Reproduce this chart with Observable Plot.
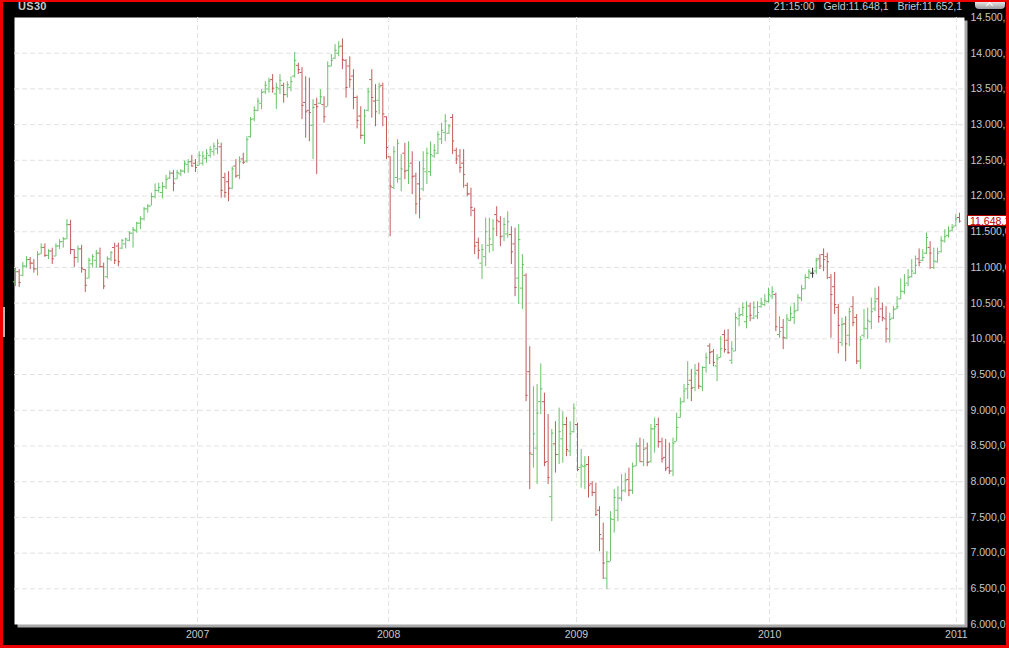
<!DOCTYPE html>
<html>
<head>
<meta charset="utf-8">
<script src="https://cdn.jsdelivr.net/npm/d3@7"></script>
<script src="https://cdn.jsdelivr.net/npm/@observablehq/plot@0.6"></script>
<style>
  html, body { margin: 0; padding: 0; background: #000; }
  #wrap { position: relative; width: 1009px; height: 648px; overflow: hidden; background: #000;
          font-family: "Liberation Sans", Arial, sans-serif; }
  #chart { position: absolute; left: 0; top: 0; }
  #border { position: absolute; left: 0; top: 0; width: 1009px; height: 648px; box-sizing: border-box;
            border: 3px solid #ee0000; border-top-width: 2px; pointer-events: none; }
  .hdr { position: absolute; top: 0; font-size: 10.5px; line-height: 12px; color: #c8c8c8; white-space: pre; }
  #title { left: 18px; font-weight: bold; font-size: 11px; letter-spacing: 0.3px; }
  #quote { right: 47px; }
  #btn { position: absolute; left: 975px; top: 1px; width: 30px; height: 8px; border-radius: 0 0 4px 4px;
         background: linear-gradient(#f0f0f0, #9a9a9a); }
  #btn:after { content: ""; position: absolute; left: 12px; top: 2px; width: 4px; height: 4px;
               border-left: 1px solid #fff; border-top: 1px solid #fff; transform: rotate(45deg); }
  #handle { position: absolute; left: 3px; top: 307px; width: 2px; height: 30px; background: #b8b8b8; }
  #price { position: absolute; left: 967px; width: 44px; height: 11px; box-sizing: border-box; background: #fff;
           border: 1px solid #b00000; color: #c00000; font-size: 10.5px; line-height: 10px; padding-left: 2px;
           white-space: pre; }
</style>
</head>
<body>
<div id="wrap">
  <div id="chart"></div>
  <div id="title" class="hdr">US30</div>
  <div id="quote" class="hdr">21:15:00   Geld:11.648,1   Brief:11.652,1</div>
  <div id="btn"></div>
  <div id="handle"></div>
  <div id="price"></div>
  <div id="border"></div>
</div>
<script>
// ---- weekly OHLC bars of US30, first bar = week ending 2006-02-03 ----
const firstWeek = "2006-02-03";

const opens = [
  10800,10940,10890,11020,11110,11060,10980,11190,11280,11170,
  11230,11160,11300,11360,11400,11600,11250,11140,11260,10970,
  10850,11050,11100,11200,11010,10870,11120,11280,11300,11270,
  11330,11380,11480,11520,11620,11680,11820,11860,11990,12080,
  12050,12130,12250,12320,12240,12310,12350,12440,12480,12460,
  12430,12460,12530,12570,12620,12660,12690,12260,12200,12110,
  12420,12290,12520,12490,12830,13080,13200,13300,13460,13500,
  13630,13430,13500,13550,13420,13520,13680,13830,13730,13310,
  13200,12990,13280,13300,13280,13250,13820,13930,14000,14100,
  13900,13820,13680,13380,13120,12850,13200,13630,13330,13340,
  13550,13110,12550,12120,12260,12240,12600,12360,12460,12280,
  12170,12100,12340,12340,12560,12600,12800,12890,12880,13100,
  12640,12560,12460,12150,12030,11800,11350,11060,11150,11310,
  11320,11740,11640,11440,11470,11460,11330,10850,10710,10890,
  9540,8380,8470,9120,9120,8280,7790,8530,8380,8600,
  8800,8430,8700,8800,8200,8210,8240,7970,7850,7600,
  7200,6650,6880,7470,7600,7770,7880,8030,7880,8220,
  8500,8280,8470,8280,8740,8800,8560,8340,8200,8150,
  8560,8900,9120,9300,9420,9320,9560,9330,9600,9900,
  9820,9620,9740,10060,9980,9700,9830,10280,10340,10240,
  10460,10290,10320,10450,10480,10520,10600,10620,10060,10160,
  10010,10260,10300,10400,10570,10700,10860,10920,10950,11120,
  11180,11150,10860,10730,10440,9950,10210,10050,10450,10300,
  9690,10050,10140,10240,10420,10560,10420,10280,10000,10290,
  10420,10560,10660,10780,10870,10920,11120,11100,11200,11280,
  11000,11080,11220,11370,11450,11520,11580,11700
];

const highs = [
  10990,10970,11070,11150,11140,11110,11220,11330,11330,11250,
  11270,11330,11390,11420,11670,11660,11250,11300,11310,10970,
  11130,11180,11240,11270,11060,11150,11220,11340,11340,11390,
  11410,11500,11560,11630,11710,11840,11880,12040,12170,12180,
  12190,12290,12350,12360,12360,12370,12490,12510,12570,12510,
  12620,12620,12650,12690,12740,12790,12740,12320,12340,12410,
  12510,12550,12600,12830,13100,13250,13370,13490,13600,13650,
  13700,13580,13700,13580,13600,13670,14010,13860,13800,13670,
  13650,13350,13370,13490,13390,13880,13980,14120,14160,14200,
  13910,13950,13770,13400,13250,13210,13510,13770,13560,13580,
  13580,13110,12550,12690,12790,12580,12740,12760,12620,12320,
  12480,12620,12670,12760,12720,12900,13020,13140,13000,13140,
  12670,12650,12650,12180,12110,11830,11410,11320,11690,11690,
  11670,11850,11710,11690,11780,11570,11550,11600,11180,10910,
  9890,9330,9360,9650,9240,8940,8730,8840,9030,8980,
  8900,8840,9090,8820,8450,8350,8350,8000,7980,7650,
  7420,7020,7580,7890,7930,8100,8120,8190,8260,8540,
  8610,8590,8540,8800,8890,8890,8610,8590,8540,8610,
  8960,9170,9360,9680,9570,9640,9660,9610,9800,9930,
  9850,9780,10030,10120,10130,9960,10360,10430,10500,10520,
  10500,10520,10520,10570,10620,10710,10730,10640,10310,10270,
  10340,10450,10500,10620,10750,10900,10970,10990,11130,11180,
  11260,11200,10900,10930,10480,10290,10310,10430,10590,10340,
  10030,10410,10430,10570,10710,10730,10500,10450,10360,10450,
  10590,10840,10900,10970,11110,11160,11260,11250,11480,11360,
  11270,11270,11430,11530,11570,11600,11740,11760
];

const lows = [
  10730,10720,10870,10990,10970,10920,10880,11180,11140,11110,
  11040,11150,11250,11270,11390,11180,11000,11060,10920,10650,
  10840,10990,10990,10990,10690,10840,11080,11040,11010,11250,
  11260,11360,11270,11480,11530,11650,11760,11860,11960,12040,
  11960,12090,12230,12060,12230,12270,12310,12320,12410,12330,
  12420,12420,12460,12530,12560,12580,11970,11970,11920,12090,
  12250,12230,12440,12460,12810,13040,13180,13210,13420,13440,
  13440,13210,13420,13300,13370,13460,13650,13700,13070,12810,
  12760,12510,12300,13280,13020,13250,13810,13910,13950,13770,
  13370,13510,13210,12940,12790,12720,13180,13090,12970,13140,
  12970,12510,11430,12090,12180,12060,12230,12160,12020,11740,
  11680,12060,12160,12270,12530,12580,12720,12760,12860,12580,
  12440,12320,12110,11990,11710,11180,11110,10830,11010,11200,
  11220,11430,11290,11360,11410,11040,10590,10480,10410,9120,
  7890,8190,7960,8940,8210,7960,7440,8120,8240,8260,
  8350,8350,8680,8140,7910,7890,7770,7790,7510,7020,
  6630,6490,6880,7280,7440,7720,7840,7790,7820,8210,
  8280,8210,8210,8260,8400,8470,8260,8140,8100,8070,
  8560,8890,9100,9150,9120,9260,9290,9260,9520,9640,
  9610,9400,9730,9800,9780,9640,9820,10170,10310,10140,
  10240,10270,10270,10430,10450,10500,10550,10100,10010,9850,
  9990,10240,10200,10380,10520,10690,10830,10850,10900,10970,
  10940,10830,10010,10340,9790,9890,9680,9890,10170,9640,
  9570,10010,9990,10130,10380,10220,10240,9940,9940,10270,
  10410,10550,10620,10730,10850,10900,11010,11080,11180,10970,
  10970,11060,11200,11340,11410,11500,11570,11620
];

const closes = [
  10940,10790,11020,11110,11060,10980,11180,11280,11170,11230,
  11120,11300,11360,11400,11600,11250,11140,11260,10990,10750,
  11100,11150,11200,11010,10740,11120,11210,11100,11080,11380,
  11400,11480,11530,11620,11680,11820,11860,11990,12080,12120,
  12130,12230,12320,12180,12330,12350,12460,12480,12420,12400,
  12570,12560,12600,12650,12700,12740,12080,12050,12110,12380,
  12280,12480,12470,12790,13070,13200,13330,13450,13550,13610,
  13510,13520,13620,13420,13560,13600,13900,13770,13270,13180,
  13170,13240,13250,13390,13110,13820,13900,14040,14090,13910,
  13520,13630,13380,13060,12850,13120,13460,13380,13180,13530,
  13150,12680,12140,12620,12740,12380,12350,12420,12270,11890,
  11960,12380,12600,12580,12640,12860,12920,13050,12980,12770,
  12520,12400,12300,12030,11840,11300,11240,11250,11500,11400,
  11540,11660,11430,11600,11640,11220,10720,11390,11040,9210,
  8400,8670,8960,9300,8270,8060,8680,8380,8700,8800,
  8450,8670,9030,8170,8230,8220,7950,7850,7540,7260,
  6860,6880,7480,7780,7770,7870,8020,7880,8210,8500,
  8280,8450,8270,8740,8770,8560,8320,8180,8150,8540,
  8760,9100,9270,9360,9310,9520,9340,9600,9740,9810,
  9670,9720,9860,9850,9810,9860,10300,10330,10440,10310,
  10330,10440,10370,10500,10540,10620,10660,10170,10100,10020,
  10280,10350,10380,10580,10700,10860,10940,10920,11100,11020,
  11110,11080,10620,10480,10190,10200,9930,10380,10230,9690,
  9990,10150,10260,10380,10520,10310,10300,10140,10270,10410,
  10450,10670,10750,10860,10950,11030,11070,11140,11420,11200,
  11090,11200,11380,11430,11500,11560,11680,11648.1
];

// y axis ticks (every 500) and year labels, placed where the platform draws them
const yTicks = [6000,6500,7000,7500,8000,8500,9000,9500,10000,10500,11000,11500,12000,12500,13000,13500,14000,14500];
const yearLabels = ["2007", "2008", "2009", "2010", "2011"];
const yearTickDates = ["2007-01-16", "2008-01-15", "2009-01-07", "2010-01-10", "2011-01-01"];
const xDomain = ["2006-02-01T02:00:00Z", "2011-01-16T12:00:00Z"];

// ---- build ----
const start = new Date(firstWeek + "T00:00:00Z");
const bars = opens.map((o, i) => ({
  date: d3.utcDay.offset(start, 7 * i),
  open: o, high: highs[i], low: lows[i], close: closes[i]
}));
const colorOf = d => d.close > d.open ? "#68c268" : d.close < d.open ? "#c25a5a" : "#303030";

const de = d3.formatLocale({decimal: ",", thousands: ".", grouping: [3], currency: ["", ""]});
const fmt = de.format(",.1f");
const yearDates = yearTickDates.map(s => new Date(s + "T00:00:00Z"));
const yearByTime = new Map(yearDates.map((d, i) => [+d, yearLabels[i]]));

const chart = Plot.plot({
  width: 1009,
  height: 648,
  marginLeft: 14,
  marginRight: 45,
  marginTop: 17,
  marginBottom: 24,
  style: {background: "transparent", color: "#c8c8c8", fontFamily: "Liberation Sans, Arial, sans-serif", fontSize: "10.5px"},
  x: {type: "utc", domain: xDomain.map(s => new Date(s))},
  y: {domain: [6000, 14500]},
  marks: [
    Plot.frame({fill: "#a9a9a9", stroke: "none", dx: 3, dy: 3}),
    Plot.frame({fill: "#ffffff", stroke: "none"}),
    Plot.ruleY(yTicks.slice(1, -1), {stroke: "#e2e2e2", strokeDasharray: "5,3", strokeWidth: 1}),
    Plot.ruleX(yearDates, {stroke: "#e2e2e2", strokeDasharray: "5,3", strokeWidth: 1}),
    Plot.ruleX(bars, {x: "date", y1: "low", y2: "high", stroke: colorOf, strokeWidth: 1}),
    Plot.ruleY(bars, {y: "open", x1: d => d3.utcDay.offset(d.date, -4), x2: "date", stroke: colorOf, strokeWidth: 1}),
    Plot.ruleY(bars, {y: "close", x1: "date", x2: d => d3.utcDay.offset(d.date, 4), stroke: colorOf, strokeWidth: 1}),
    Plot.axisY({anchor: "right", ticks: yTicks, tickSize: 0, tickPadding: 6, tickFormat: fmt, textAnchor: "start", label: null}),
    Plot.axisX({ticks: yearDates, tickSize: 0, tickPadding: 6, tickFormat: d => yearByTime.get(+d), label: null})
  ]
});
document.getElementById("chart").appendChild(chart);

// current price label, positioned through the y scale
const last = bars[bars.length - 1];
const py = chart.scale("y").apply(last.close);
const price = document.getElementById("price");
price.textContent = fmt(last.close);
price.style.top = (py - 6) + "px";
</script>
</body>
</html>
